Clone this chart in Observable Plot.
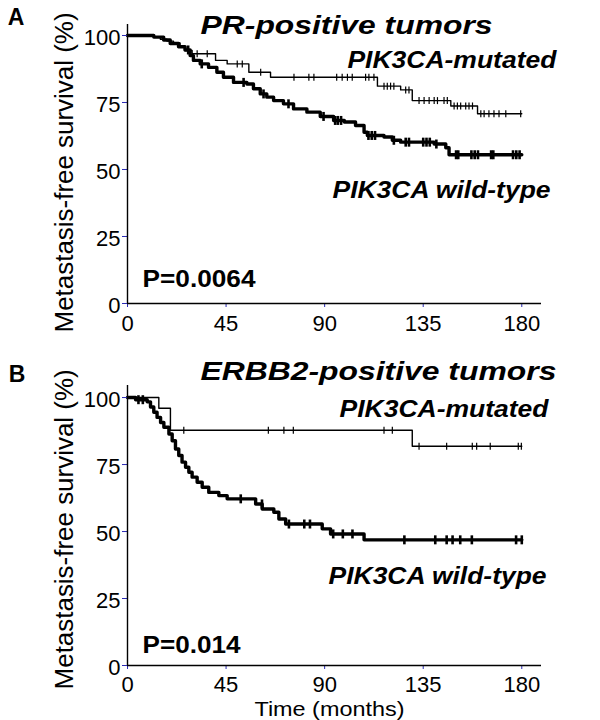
<!DOCTYPE html>
<html><head><meta charset="utf-8">
<script src="https://cdn.jsdelivr.net/npm/d3@7"></script>
<script src="https://cdn.jsdelivr.net/npm/@observablehq/plot@0.6"></script>
<style>
body{margin:0;background:#fff;}
#chart{width:600px;height:720px;position:relative;}
#chart svg{display:block;overflow:visible;}
</style></head><body><div id="chart"></div>
<script>
// ---- data (time in months, metastasis-free survival in %) ----
const xTicks = [0, 45, 90, 135, 180];
const yTicks = [0, 25, 50, 75, 100];

// Panel A: PR-positive tumors
const aMutSteps = [[0,100],[12,99.3],[15,98.6],[18,97.9],[21,97.2],[24,95.8],[26,94.4],[29.5,93.2],[40.2,90.7],[45.5,89.4],[55.4,86.3],[65.3,84.4],[114.1,81.1],[124.7,79.7],[130,75.7],[147.6,73.7],[159.8,70.8],[180,70.8]];
const aMutCensor = [31.8,36.4,50.1,52.4,60.8,76,82.8,85.1,95.5,98,100.4,102.6,108.7,110.2,112.5,117.1,118.6,120.1,121.6,127,128.5,133.1,135.4,137.7,140,141.5,144.5,146,149.1,150.6,152.1,154.4,155.9,157.5,161.3,162.8,165,167.3,169.6,172.7,179.5];
const aWtSteps = [[0,100],[12,99.4],[16.5,98.3],[19.5,97.0],[23.3,95.8],[26.3,94.6],[28.6,92.5],[30.1,90.7],[33.2,89.4],[37,88.1],[40.8,86.3],[43.8,84.4],[48.4,82.5],[54.5,81.9],[57.5,80.1],[60.6,78.2],[63.6,77.0],[66.7,75.7],[71.2,74.5],[75.8,72.6],[81.9,71.4],[88,69.8],[94.1,68.3],[99,67.7],[104.1,66.4],[108,63.9],[109.5,62.7],[117.1,62.1],[120.9,60.9],[124.7,60.2],[140,59.5],[145.3,58.1],[146.8,55.5],[180,55.5]];
const aWtCensor = [27.7,33.9,53,62.1,73.5,89.5,94.8,96,97.5,110,111.5,113,121.6,127,128.5,135,136.5,138,141,150,151,157,158.5,160,166,167,176,177.5,179];

// Panel B: ERBB2-positive tumors
const bMutSteps = [[0,100],[14.3,96.0],[19.6,87.8],[130,81.8],[180,81.8]];
const bMutCensor = [25.7,64.3,71.4,75.7,117.1,120.9,133.1,145.7,157.4,159.4,165.6,178.4,179.8];
const bWtSteps = [[0,100],[3.7,99.2],[9,98.4],[10.5,96.5],[12,94.5],[13.5,92.6],[15.1,90.7],[16.6,88.9],[18.9,86.4],[20.4,83.9],[21.9,80.8],[23.4,78.4],[24.9,75.9],[26.5,74.0],[28,72.1],[29.5,70.3],[31.8,68.4],[34.1,66.5],[37.1,64.6],[41.7,63.4],[45.5,62.2],[58.5,60.3],[61.5,58.4],[66.8,57.2],[69.1,54.7],[72.2,52.8],[88.9,51.0],[92.7,49.1],[108,46.9],[180,46.9]];
const bWtCensor = [5,7,51.7,61.4,73.7,80.7,83.3,93.9,98.3,102.7,126.4,140.5,145.7,148.4,151.9,157.2,177.4,180];

// ---- helpers ----
function survAt(steps, t) {
  let s = steps[0][1];
  for (const [x, v] of steps) { if (x <= t) s = v; else break; }
  return s;
}
const vbar = {draw(ctx, size) { const h = Math.sqrt(size / Math.PI); ctx.moveTo(0, -h); ctx.lineTo(0, h); }};
const FF = "'Liberation Sans', Arial, Helvetica, sans-serif";
const TICK = "#2b2bb5";
const widths = {
  "PR-positive tumors": 292, "ERBB2-positive tumors": 356,
  "P=0.0064": 113, "P=0.014": 98,
  "PIK3CA-mutated": 209, "PIK3CA wild-type": 218,
  "Metastasis-free survival (%)": 320, "Time (months)": 150
};

function panel(o) {
  const bold = {fontWeight: "bold", fontStyle: "italic", fontFamily: FF};
  const svg = Plot.plot({
    width: 600, height: o.height,
    marginLeft: 127, marginRight: 59, marginTop: o.mt, marginBottom: o.mb,
    x: {domain: [0, 189]},
    y: {domain: [0, o.yTop]},
    style: {fontFamily: FF, background: "transparent", color: "black"},
    marks: [
      Plot.line(o.wt, {x: d => d[0], y: d => d[1], curve: "step-after", strokeWidth: 3.4}),
      Plot.line(o.mut, {x: d => d[0], y: d => d[1], curve: "step-after", strokeWidth: 1.4}),
      Plot.dot(o.wtC, {x: d => d, y: d => survAt(o.wt, d), symbol: vbar, r: 4.5, stroke: "black", fill: "none", strokeWidth: 2.6}),
      Plot.dot(o.mutC, {x: d => d, y: d => survAt(o.mut, d), symbol: vbar, r: 3.5, stroke: "black", fill: "none", strokeWidth: 1.2}),
      Plot.axisY(yTicks, {tickSize: 5, color: TICK, stroke: TICK, tickFormat: () => "", label: null}),
      Plot.axisY(yTicks, {tickSize: 0, tickPadding: 7, fontSize: 22, color: "black", label: null, dy: 2}),
      Plot.axisX(xTicks, {tickSize: 4, color: TICK, stroke: TICK, tickFormat: () => "", label: null}),
      Plot.axisX(xTicks, {tickSize: 0, tickPadding: o.xPad, fontSize: 22, color: "black", label: null}),
      Plot.ruleX([0], {strokeWidth: 1.4}),
      Plot.ruleY([0], {strokeWidth: 1.4}),
      Plot.text([o.letter], {text: d => d, frameAnchor: "top-left", textAnchor: "middle", lineAnchor: "middle", dx: o.letterDx, dy: o.letterDy, fontSize: 23, fontWeight: "bold"}),
      Plot.text(["Metastasis-free survival (%)"], {text: d => d, x: -28.6, y: o.ylabY, rotate: -90, textAnchor: "middle", lineAnchor: "middle", fontSize: 26}),
      Plot.text([o.title], {text: d => d, x: o.titleX, y: o.titleY, textAnchor: o.titleAnchor, lineAnchor: "bottom", fontSize: 26, ...bold}),
      Plot.text(["PIK3CA-mutated"], {text: d => d, x: o.mutLX, y: o.mutLY, textAnchor: "end", lineAnchor: "bottom", fontSize: 23, ...bold}),
      Plot.text(["PIK3CA wild-type"], {text: d => d, x: o.wtLX, y: o.wtLY, textAnchor: "end", lineAnchor: "bottom", fontSize: 23, ...bold}),
      Plot.text([o.p], {text: d => d, x: 6.85, y: o.pY, textAnchor: "start", lineAnchor: "bottom", fontSize: 23, fontWeight: "bold"}),
      ...(o.xlab ? [Plot.text([o.xlab], {text: d => d, x: 92.2, y: o.xlabY, textAnchor: "middle", lineAnchor: "bottom", fontSize: 21})] : [])
    ]
  });
  svg.querySelectorAll("text").forEach(el => {
    const w = widths[el.textContent];
    if (w) { el.setAttribute("textLength", w); el.setAttribute("lengthAdjust", "spacingAndGlyphs"); }
  });
  return svg;
}

const chart = document.getElementById("chart");
chart.appendChild(panel({
  height: 350, mt: 24, mb: 47, yTop: 104.1, xPad: 12,
  mut: aMutSteps, mutC: aMutCensor, wt: aWtSteps, wtC: aWtCensor,
  letter: "A", letterDx: -111.5, letterDy: -7, ylabY: 48.9,
  title: "PR-positive tumors", titleX: 100, titleY: 100.7, titleAnchor: "middle",
  mutLX: 195.8, mutLY: 87.7, wtLX: 193.1, wtLY: 39.2,
  p: "P=0.0064", pY: 6.0
}));
chart.appendChild(panel({
  height: 370, mt: 35, mb: 55, yTop: 104.5, xPad: 10.5,
  mut: bMutSteps, mutC: bMutCensor, wt: bWtSteps, wtC: bWtCensor,
  letter: "B", letterDx: -110.5, letterDy: -11, ylabY: 50.8,
  title: "ERBB2-positive tumors", titleX: 195.8, titleY: 106.7, titleAnchor: "end",
  mutLX: 192.2, mutLY: 92.6, wtLX: 191.3, wtLY: 30.6,
  p: "P=0.014", pY: 4.5,
  xlab: "Time (months)", xlabY: -18.8
}));
</script></body></html>
